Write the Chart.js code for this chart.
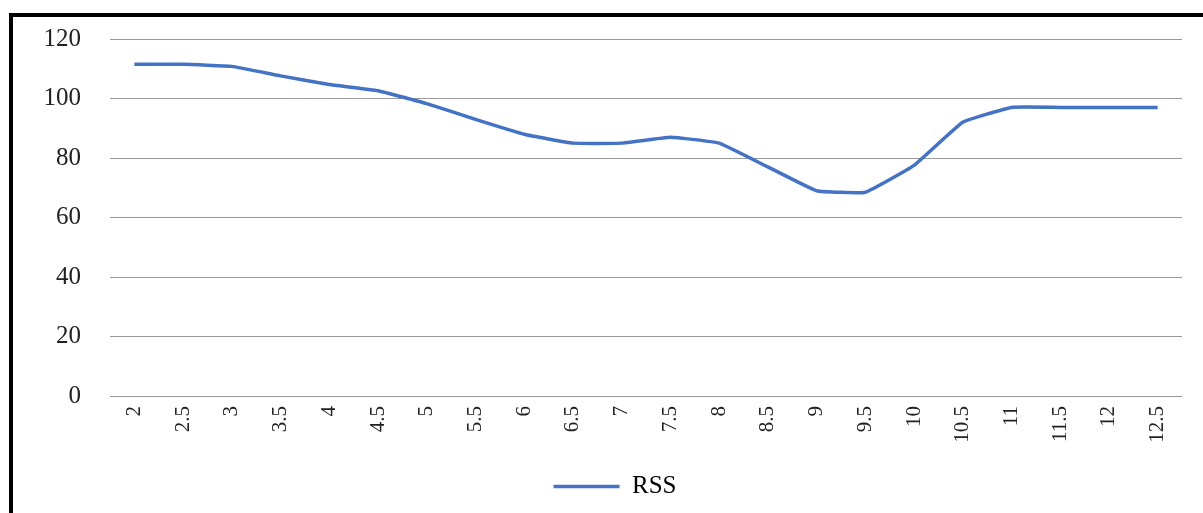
<!DOCTYPE html>
<html>
<head>
<meta charset="utf-8">
<script src="https://cdn.jsdelivr.net/npm/chart.js@4/dist/chart.umd.min.js"></script>
<style>
  html, body { margin: 0; padding: 0; background: #fff; }
  #wrap { position: relative; width: 1203px; height: 513px; overflow: hidden; }
  #frame { position: absolute; left: 9px; top: 13px; width: 1300px; height: 600px;
           border-top: 4px solid #000; border-left: 4px solid #000; pointer-events: none; }
  canvas { position: absolute; left: 0; top: 0; }
</style>
</head>
<body>
<div id="wrap">
  <canvas id="c" width="1203" height="513"></canvas>
  <div id="frame"></div>
</div>
<script>
// x categories
const categories = ['2', '2.5', '3', '3.5', '4', '4.5', '5', '5.5', '6', '6.5', '7',
                    '7.5', '8', '8.5', '9', '9.5', '10', '10.5', '11', '11.5', '12', '12.5'];
// RSS series
const rssValues = [111.5, 111.5, 110.8, 107.6, 104.7, 102.6, 98.3, 93, 88, 85, 85,
                   87, 85, 77, 69, 68.5, 77.5, 92, 97, 97, 97, 97];
// y tick labels
const yTicks = [0, 20, 40, 60, 80, 100, 120];

const serif = "'Liberation Serif', 'Times New Roman', serif";

// nudges the bottom legend a little to the right of the plot centre
const legendShift = {
  id: 'legendShift',
  afterLayout(chart) {
    if (chart.legend) { chart.legend.left += 24; chart.legend.right += 24; }
  }
};

function draw() {
  new Chart(document.getElementById('c'), {
    type: 'line',
    data: {
      labels: categories,
      datasets: [{
        label: 'RSS',
        data: rssValues,
        borderColor: '#4472C4',
        backgroundColor: '#4472C4',
        borderWidth: 3.5,
        pointRadius: 0,
        tension: 0.1,
        fill: false
      }]
    },
    plugins: [legendShift],
    options: {
      responsive: false,
      animation: false,
      layout: { padding: { left: 0, right: 21, top: 39, bottom: 4 } },
      plugins: {
        tooltip: { enabled: false },
        legend: {
          position: 'bottom',
          labels: {
            usePointStyle: true,
            pointStyle: 'line',
            pointStyleWidth: 66,
            padding: 10,
            color: '#000',
            font: { family: serif, size: 25 }
          }
        }
      },
      scales: {
        x: {
          offset: true,
          grid: { display: false, drawTicks: false },
          border: { display: false },
          ticks: {
            autoSkip: false,
            minRotation: 90,
            maxRotation: 90,
            padding: 10,
            color: '#222',
            font: { family: serif, size: 21 }
          },
          afterFit: (s) => { s.height = 68; s.paddingTop = 0; s.paddingBottom = 0; }
        },
        y: {
          min: 0,
          max: 120,
          afterBuildTicks: (s) => { s.ticks = yTicks.map(v => ({ value: v })); },
          grid: { color: '#9a9a9a', lineWidth: 1, drawTicks: false },
          border: { display: false },
          ticks: {
            padding: 29,
            color: '#222',
            font: { family: serif, size: 25 }
          },
          afterFit: (s) => { s.width = 110; s.paddingTop = 0; s.paddingBottom = 0; }
        }
      }
    }
  });
}

Promise.all([
  document.fonts.load("25px 'Liberation Serif'"),
  document.fonts.load("21px 'Liberation Serif'")
]).then(draw, draw);
</script>
</body>
</html>
